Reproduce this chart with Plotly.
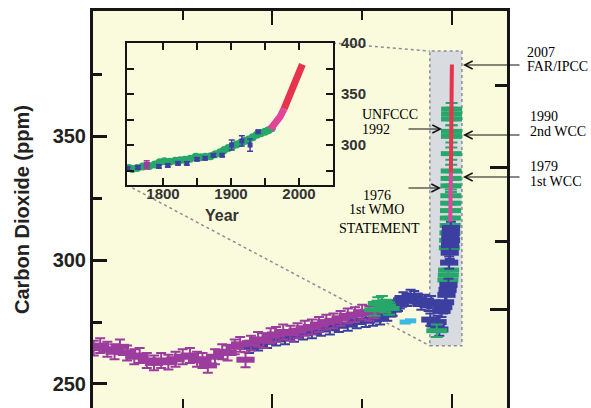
import math
import plotly.graph_objects as go

W, H = 591, 408

# ---------------- data: main panel (years before 2005, CO2 ppm) ----------------
MAG_T = [9980, 9800, 9600, 9400, 9250, 9050, 8850, 8700, 8500, 8300, 8100, 7900, 7700, 7500,
         7300, 7100, 6950, 6800, 6600, 6400, 6250, 6050, 5900, 5750, 5600, 5400, 5250, 5050,
         4900, 4700, 4500, 4300, 4100, 3900, 3700, 3500, 3300, 3100, 2900, 2700, 2500, 2300, 2150]
MAG_C = [264.5, 265.5, 264.0, 263.0, 265.0, 262.5, 261.0, 261.5, 259.5, 258.5, 259.5, 258.8, 260.0, 261.0,
         261.5, 260.0, 259.5, 257.5, 261.0, 263.0, 262.5, 265.0, 266.0, 259.8, 266.5, 268.0, 267.5, 269.5,
         270.0, 271.0, 270.5, 271.5, 272.5, 273.0, 274.0, 275.0, 275.5, 276.5, 277.5, 278.0, 279.0, 278.5, 279.5]

BLUE_T = [5650, 5400, 5150, 4900, 4650, 4400, 4150, 3900, 3650, 3400, 3150, 2900, 2650, 2400, 2200,
          2000, 1800, 1650, 1500, 1450, 1350, 1250, 1150, 1050, 950, 850, 750, 650, 600, 580, 450,
          400, 350, 290, 240, 190, 150, 120, 95, 75, 60, 50, 42, 35, 30, 26]
BLUE_C = [265.0, 266.0, 267.0, 268.0, 268.5, 269.5, 270.5, 271.0, 272.0, 272.5, 273.5, 274.0, 275.0, 275.5, 276.0,
          276.5, 278.0, 280.0, 282.0, 283.0, 284.5, 284.0, 285.5, 285.0, 284.0, 282.5, 283.5, 282.0, 276.0, 283.0, 274.0,
          275.0, 272.0, 279.5, 281.0, 283.0, 286.0, 288.0, 290.0, 299.0, 303.0, 306.0, 309.0, 311.0, 308.0, 313.0]

CYAN_T = [1300, 1150]
CYAN_C = [275.0, 275.5]

# green ice-core points before the industrial rise
GREEN_EARLY_T = [2150, 2050, 1950, 1850, 1750, 420]
GREEN_EARLY_C = [280.0, 282.5, 283.0, 281.5, 280.5, 271.5]
# green points in the industrial-era spike
GREEN_T = [110, 100, 92, 70, 62, 55, 48, 43, 38, 34, 30, 26, 23, 20, 16, 12, 11, 9, 8, 7]
GREEN_C = [292.0, 294.0, 296.0, 305.0, 308.0, 311.0, 314.0, 317.0, 320.0, 323.0, 326.0, 330.0,
           333.0, 336.0, 343.0, 350.0, 352.0, 357.0, 359.0, 361.0]

# ---------------- data: inset (calendar year, CO2 ppm) ----------------
IN_GREEN_YR = [1750, 1755, 1762, 1770, 1780, 1788, 1795, 1802, 1810, 1818, 1825, 1832, 1840, 1848, 1855, 1862,
               1870, 1877, 1884, 1890, 1896, 1902, 1908, 1914, 1920, 1926, 1932, 1938, 1944, 1950, 1955, 1960]
IN_GREEN_C = [277.5, 276.5, 277.5, 279.0, 279.5, 281.0, 283.0, 284.0, 283.5, 284.5, 285.0, 285.5, 286.5, 288.5,
              288.0, 288.5, 289.0, 291.0, 293.0, 295.0, 297.0, 299.0, 300.5, 302.0, 304.0, 305.5, 307.5, 310.0,
              311.5, 313.0, 314.5, 316.5]

IN_BLUE_YR = [1748, 1763, 1794, 1807, 1822, 1835, 1850, 1862, 1874, 1887, 1901, 1916, 1928, 1940]
IN_BLUE_C = [277.0, 278.0, 279.0, 280.0, 282.0, 282.0, 286.0, 287.0, 290.0, 290.0, 300.0, 304.0, 300.0, 313.0]
IN_BLUE_ERR = [1.5, 1.5, 1.5, 1.5, 1.5, 1.5, 1.5, 1.5, 1.5, 1.5, 5.0, 5.0, 6.0, 1.5]

IN_PURPLE_YR = [1776]
IN_PURPLE_C = [280.5]
IN_PURPLE_ERR = [4.0]

PINK_YR = [1958, 1960, 1962, 1964, 1966, 1968, 1970, 1972, 1974, 1976, 1978]
PINK_C = [315.5, 316.9, 318.5, 319.6, 321.4, 323.0, 325.7, 327.5, 330.2, 332.0, 335.4]

RED_YR = [1978, 1980, 1982, 1984, 1986, 1988, 1990, 1992, 1994, 1996, 1998, 2000, 2002, 2004, 2005]
RED_C = [335.4, 338.8, 341.5, 344.7, 347.4, 351.6, 354.4, 356.5, 358.8, 362.6, 366.7, 369.6, 373.3, 377.5, 379.0]

# radiative forcing ticks (W m-2) on right axis, relative to 280 ppm
FORCING_MAJOR = [0.0, 1.0]
FORCING_MINOR = [0.5, 1.5]

# zoom window drawn on main panel (years before 2005, ppm)
ZOOM_T = (614, -279)
ZOOM_C = (265.4, 384.4)

# ---------------- styling ----------------
YELLOW = "#FAFADC"
GREYBOX = "#D8DCE0"
MAGENTA = "#9C3C9E"
BLUE = "#3C3FA0"
GREEN = "#27A86A"
CYAN = "#3BB8E4"
PINK = "#E2449A"
RED = "#E8334F"
INK = "#151515"

MAIN_X = (93, 507)
MAIN_TOP = 11
MAIN_XR = [10000, -1536]
MAIN_YR = [240.3, 400.6]
INSET_X = (127, 333)
INSET_Y = (43, 185)

fig = go.Figure()

def bar_marker(color, size, width):
    return dict(symbol="line-ew", size=size, color=color, line=dict(width=width, color=color))

green_err = dict(type="constant", value=2.5, color=GREEN, thickness=2, width=6)

fig.add_trace(go.Scatter(x=GREEN_T, y=GREEN_C, mode="markers", marker=bar_marker(GREEN, 15, 5),
                         error_y=green_err, xaxis="x", yaxis="y", showlegend=False, hoverinfo="skip"))
fig.add_trace(go.Scatter(x=BLUE_T, y=BLUE_C, mode="markers", marker=bar_marker(BLUE, 13, 6),
                         error_y=dict(type="constant", value=2.5, color=BLUE, thickness=2, width=5),
                         xaxis="x", yaxis="y", showlegend=False, hoverinfo="skip"))
fig.add_trace(go.Scatter(x=MAG_T, y=MAG_C, mode="markers", marker=bar_marker(MAGENTA, 13, 6),
                         error_y=dict(type="constant", value=3, color=MAGENTA, thickness=2, width=5),
                         xaxis="x", yaxis="y", showlegend=False, hoverinfo="skip"))
fig.add_trace(go.Scatter(x=GREEN_EARLY_T, y=GREEN_EARLY_C, mode="markers", marker=bar_marker(GREEN, 15, 5),
                         error_y=green_err, xaxis="x", yaxis="y", showlegend=False, hoverinfo="skip"))
fig.add_trace(go.Scatter(x=CYAN_T, y=CYAN_C, mode="markers", marker=bar_marker(CYAN, 8, 5),
                         xaxis="x", yaxis="y", showlegend=False, hoverinfo="skip"))
fig.add_trace(go.Scatter(x=[2005 - y for y in PINK_YR], y=PINK_C, mode="lines",
                         line=dict(color=PINK, width=4), xaxis="x", yaxis="y",
                         showlegend=False, hoverinfo="skip"))
fig.add_trace(go.Scatter(x=[2005 - y for y in RED_YR], y=RED_C, mode="lines",
                         line=dict(color=RED, width=4), xaxis="x", yaxis="y",
                         showlegend=False, hoverinfo="skip"))
# helper trace so the mirrored top / right (forcing) axes are drawn
fig.add_trace(go.Scatter(x=[], y=[], xaxis="x2", yaxis="y2", showlegend=False, hoverinfo="skip"))

# inset traces
fig.add_trace(go.Scatter(x=IN_GREEN_YR, y=IN_GREEN_C, mode="markers",
                         marker=dict(color=GREEN, size=8, symbol="circle"),
                         xaxis="x3", yaxis="y3", showlegend=False, hoverinfo="skip"))
fig.add_trace(go.Scatter(x=IN_BLUE_YR, y=IN_BLUE_C, mode="markers",
                         marker=dict(color=BLUE, size=5, symbol="square"),
                         error_y=dict(type="data", array=IN_BLUE_ERR, color=BLUE, thickness=1.5, width=3),
                         xaxis="x3", yaxis="y3", showlegend=False, hoverinfo="skip"))
fig.add_trace(go.Scatter(x=IN_PURPLE_YR, y=IN_PURPLE_C, mode="markers",
                         marker=dict(color=MAGENTA, size=6, symbol="square"),
                         error_y=dict(type="data", array=IN_PURPLE_ERR, color=MAGENTA, thickness=1.5, width=3),
                         xaxis="x3", yaxis="y3", showlegend=False, hoverinfo="skip"))
fig.add_trace(go.Scatter(x=PINK_YR, y=PINK_C, mode="lines", line=dict(color=PINK, width=7),
                         xaxis="x3", yaxis="y3", showlegend=False, hoverinfo="skip"))
fig.add_trace(go.Scatter(x=RED_YR, y=RED_C, mode="lines", line=dict(color=RED, width=7),
                         xaxis="x3", yaxis="y3", showlegend=False, hoverinfo="skip"))

bold_tick = dict(family="Liberation Sans, Arial", size=20, color="#222222", weight="bold")
inset_tick = dict(family="Liberation Sans, Arial", size=15, color="#333333", weight="bold")

forc_major = [280 * math.exp(f / 5.35) for f in FORCING_MAJOR]
forc_minor = [280 * math.exp(f / 5.35) for f in FORCING_MINOR]

main_dom_x = [MAIN_X[0] / W, MAIN_X[1] / W]
main_dom_y = [0, 1 - MAIN_TOP / H]

common_x = dict(domain=main_dom_x, range=MAIN_XR, showgrid=False, zeroline=False,
                tickmode="array", tickvals=[10000, 5000, 0], ticks="inside", ticklen=14,
                tickwidth=2, tickcolor=INK, showticklabels=False,
                minor=dict(tickmode="array", tickvals=[7500, 2500], ticks="inside", ticklen=9,
                           tickwidth=2, tickcolor=INK))

fig.update_layout(
    width=W, height=H, margin=dict(l=0, r=0, t=0, b=0, autoexpand=False),
    paper_bgcolor="white", plot_bgcolor=YELLOW,
    xaxis=dict(**common_x, anchor="y", showline=False),
    xaxis2=dict(**common_x, anchor="y", overlaying="x", side="top",
                showline=True, linewidth=3, linecolor=INK),
    yaxis=dict(domain=main_dom_y, range=MAIN_YR, anchor="x", showgrid=False, zeroline=False,
               showline=True, linewidth=3, linecolor=INK,
               tickmode="array", tickvals=[250, 300, 350], ticks="inside", ticklen=14,
               tickwidth=2.5, tickcolor=INK, tickfont=bold_tick,
               minor=dict(tickmode="array", tickvals=[275, 325, 375], ticks="inside",
                          ticklen=9, tickwidth=2.5, tickcolor=INK)),
    yaxis2=dict(domain=main_dom_y, range=MAIN_YR, anchor="x", overlaying="y", side="right",
                showgrid=False, zeroline=False, showline=True, linewidth=3, linecolor=INK,
                tickmode="array", tickvals=forc_major, ticks="inside", ticklen=17,
                tickwidth=2.5, tickcolor=INK, showticklabels=False,
                minor=dict(tickmode="array", tickvals=forc_minor, ticks="inside",
                           ticklen=12, tickwidth=2.5, tickcolor=INK)),
    xaxis3=dict(domain=[INSET_X[0] / W, INSET_X[1] / W], range=[1747, 2050], anchor="y3",
                showgrid=False, zeroline=False, showline=True, mirror="ticks",
                linewidth=2, linecolor=INK, ticks="inside", ticklen=7, tickwidth=2, tickcolor=INK,
                tickmode="array", tickvals=[1800, 1850, 1900, 1950, 2000],
                ticktext=["1800", "", "1900", "", "2000"], tickfont=inset_tick,
                ticklabelstandoff=-6),
    yaxis3=dict(domain=[1 - INSET_Y[1] / H, 1 - INSET_Y[0] / H], range=[260.8, 400], anchor="x3",
                side="right", showgrid=False, zeroline=False, showline=True, mirror="ticks",
                linewidth=2, linecolor=INK, ticks="inside", ticklen=7, tickwidth=2, tickcolor=INK,
                tickmode="array", tickvals=[275, 300, 325, 350, 375, 400],
                ticktext=["", "300", "", "350", "", "400"], tickfont=inset_tick,
                ticklabelstandoff=3),
)

def main_px(t):
    frac = (MAIN_XR[0] - t) / (MAIN_XR[0] - MAIN_XR[1])
    return main_dom_x[0] + frac * (main_dom_x[1] - main_dom_x[0])

def main_py(c):
    frac = (c - MAIN_YR[0]) / (MAIN_YR[1] - MAIN_YR[0])
    return main_dom_y[0] + frac * (main_dom_y[1] - main_dom_y[0])

shapes = [
    dict(type="rect", xref="x3 domain", yref="y3 domain", x0=0, x1=1, y0=0, y1=1,
         fillcolor=GREYBOX, line=dict(width=0), layer="below"),
    dict(type="rect", xref="x", yref="y", x0=ZOOM_T[0], x1=ZOOM_T[1], y0=ZOOM_C[0], y1=ZOOM_C[1],
         fillcolor=GREYBOX, line=dict(color="#8A8F95", width=1.5, dash="dot"), layer="below"),
    dict(type="line", xref="paper", yref="paper",
         x0=INSET_X[1] / W, y0=1 - INSET_Y[0] / H, x1=main_px(ZOOM_T[0]), y1=main_py(ZOOM_C[1]),
         line=dict(color="#8A8F95", width=1.5, dash="dot"), layer="below"),
    dict(type="line", xref="paper", yref="paper",
         x0=INSET_X[0] / W, y0=1 - INSET_Y[1] / H, x1=main_px(ZOOM_T[0]), y1=main_py(ZOOM_C[0]),
         line=dict(color="#8A8F95", width=1.5, dash="dot"), layer="below"),
]
fig.update_layout(shapes=shapes)

ann = []
serif = dict(family="Liberation Serif, Times New Roman", size=14, color="#000000")

def txt(s, x, y, anchor="left"):
    ann.append(dict(text=s, x=x / W, y=1 - y / H, xref="paper", yref="paper", showarrow=False,
                    xanchor=anchor, yanchor="middle", font=serif))

def arrow(tip, tail):
    ann.append(dict(text="", x=tip[0] / W, y=1 - tip[1] / H, xref="paper", yref="paper",
                    showarrow=True, ax=tail[0] - tip[0], ay=tail[1] - tip[1],
                    arrowhead=5, arrowsize=1.3, arrowwidth=1.2, arrowcolor="#111111"))

txt("2007", 525, 52)
txt("FAR/IPCC", 525, 67)
txt("1990", 528, 117)
txt("2nd WCC", 528, 132)
txt("1979", 528, 166)
txt("1st WCC", 528, 181)
txt("UNFCCC", 360, 114)
txt("1992", 360, 129)
txt("1976", 377, 195, "center")
txt("1st WMO", 377, 210, "center")
txt("STATEMENT", 379, 228, "center")

arrow((463, 65), (521, 65))
arrow((463, 135), (521, 135))
arrow((463, 177), (521, 177))
arrow((442, 129), (407, 129))
arrow((441, 188), (407, 188))

ann.append(dict(text="Carbon Dioxide (ppm)", x=22 / W, y=1 - 210 / H, xref="paper", yref="paper",
                showarrow=False, textangle=-90, xanchor="center", yanchor="middle",
                font=dict(family="Liberation Sans, Arial", size=20, color="#222222", weight="bold")))
ann.append(dict(text="Year", x=222 / W, y=1 - 215 / H, xref="paper", yref="paper",
                showarrow=False, xanchor="center", yanchor="middle",
                font=dict(family="Liberation Sans, Arial", size=16, color="#333333", weight="bold")))
fig.update_layout(annotations=ann)

fig.write_html("out.html")
